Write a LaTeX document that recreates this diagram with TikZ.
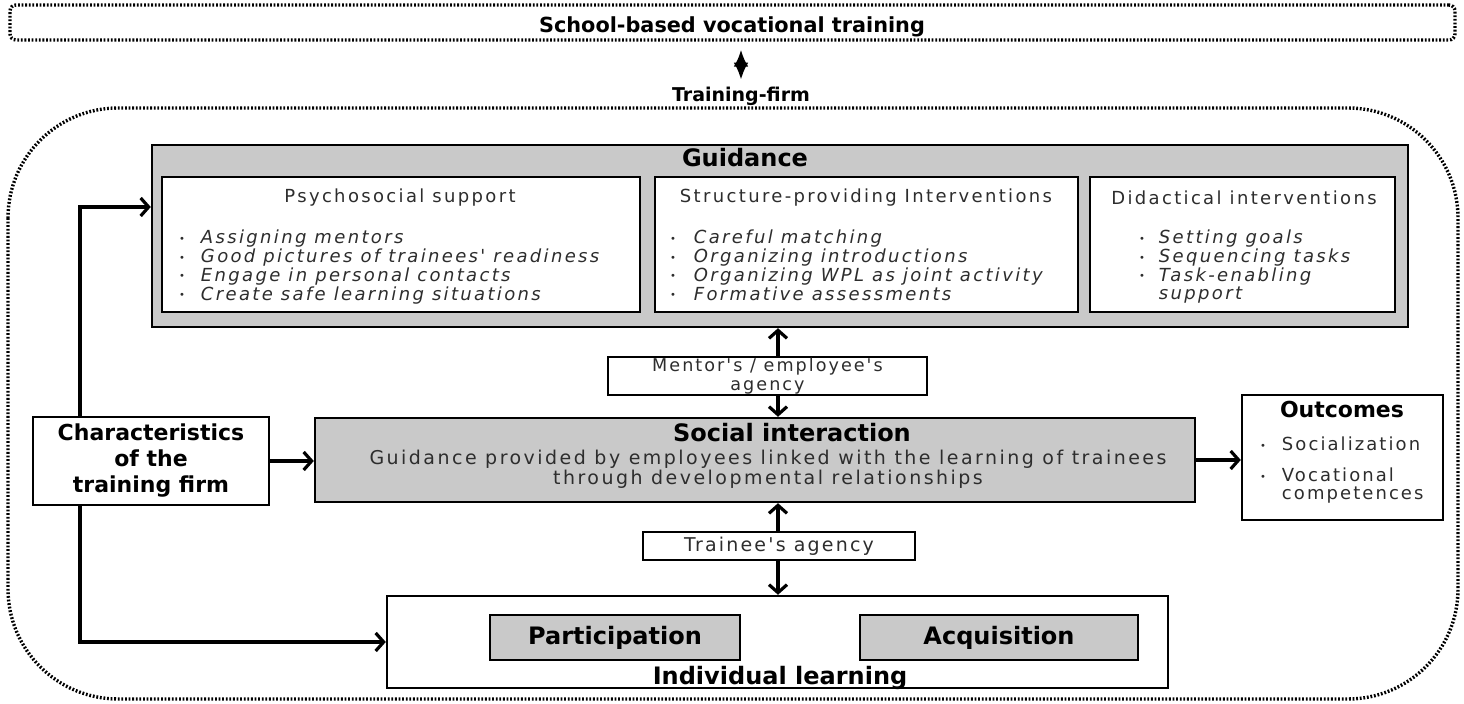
\documentclass[tikz,border=0pt]{standalone}
\usepackage{fontspec}
\setmainfont{DejaVu Sans}
\newfontfamily\spaced[LetterSpace=13]{DejaVu Sans}
\newfontfamily\spacedmid[LetterSpace=11.5]{DejaVu Sans}
\usepackage{tikz}
\usetikzlibrary{positioning, arrows.meta}
\usepackage{xcolor}
\definecolor{BoxGray}{RGB}{201, 201, 201}
\definecolor{TextGray}{RGB}{45, 45, 45}
\newcommand{\dotitem}{{\fontsize{5}{5}\selectfont\raisebox{0.8pt}{•}}}

\begin{document}
\begin{tikzpicture}[x=0.5pt, y=-0.5pt]
          \tikzstyle{box} = [rectangle, draw=black, line width=1.2pt, inner sep=0pt]
          \tikzstyle{graybox} = [box, fill=BoxGray]
          \tikzstyle{dotline} = [line width=1.7pt, dash pattern=on 0.9pt off 0.9pt]
          \tikzstyle{arr} = [line width=1.6pt, -{Straight Barb[length=4pt, width=9pt, line width=1.6pt]}]
          \tikzstyle{title} = [font=\bfseries\fontsize{10.4}{12}\selectfont]
          \tikzstyle{bigtitle} = [font=\bfseries\fontsize{12}{14}\selectfont]
          \tikzstyle{head} = [font=\spaced\fontsize{9}{9}\selectfont, text=TextGray]
          \tikzstyle{midtext} = [font=\spacedmid\fontsize{8.8}{9.5}\selectfont, text=TextGray]
          \tikzstyle{items} = [font=\spaced\itshape\fontsize{9}{8.75}\selectfont, text=TextGray, align=left, anchor=north west]

          \useasboundingbox (0,0) rectangle (1464,704);

          % Escuela y empresa
          \node[box, dotline, rounded corners=3pt, minimum width=722.5pt, minimum height=17.5pt] (school) at (732.5,22.5) {};
          \node[title] at (732,27) {School-based vocational training};
          \node[title, font=\bfseries\fontsize{9.5}{11}\selectfont] (firm) at (741,96) {Training-firm};
          \draw[line width=1.6pt, {Latex[length=8.5pt, width=7.5pt]}-{Latex[length=8.5pt, width=7.5pt]}, shorten <=0pt, shorten >=4pt] (firm.north) -- (firm.north |- school.south);
          \draw[dotline, rounded corners=55pt] (8,108) rectangle (1458,699);

          % Guidance
          \node[graybox, minimum width=628pt, minimum height=91pt] (guidance) at (780,236) {};
          \node[bigtitle] at (745,158) {Guidance};
          \node[box, fill=white, minimum width=239pt, minimum height=67.5pt] (psycho) at (401,244.5) {};
          \node[box, fill=white, minimum width=211.5pt, minimum height=67.5pt] (struct) at (866.5,244.5) {};
          \node[box, fill=white, minimum width=152.5pt, minimum height=67.5pt] (didact) at (1242.5,244.5) {};
          \node[head] at (400,198) {Psychosocial support};
          \node[head] at (866,198) {Structure-providing Interventions};
          \node[head] at (1244,198) {Didactical interventions};
          \node[items] at (172,223) {\begin{tabular}{@{}l@{\hspace{8pt}}l@{}}
            \dotitem & Assigning mentors\\ \dotitem & Good pictures of trainees' readiness\\
            \dotitem & Engage in personal contacts\\ \dotitem & Create safe learning situations\end{tabular}};
          \node[items] at (663,223) {\begin{tabular}{@{}l@{\hspace{9pt}}l@{}}
            \dotitem & Careful matching\\ \dotitem & Organizing introductions\\
            \dotitem & Organizing WPL as joint activity\\ \dotitem & Formative assessments\end{tabular}};
          \node[items] at (1132,223) {\begin{tabular}{@{}l@{\hspace{7pt}}l@{}}
            \dotitem & Setting goals\\ \dotitem & Sequencing tasks\\
            \dotitem & Task-enabling\\ & support\end{tabular}};

          % Agencias e interaccion
          \coordinate (axis) at (778,0);
          \node[box, minimum width=159.5pt, minimum height=19pt, midtext, align=center] (mentor) at (767.5,376) {Mentor's / employee's\\agency};
          \node[graybox, minimum width=440pt, minimum height=42pt] (social) at (755,460) {};
          \node[bigtitle] at (792,433) {Social interaction};
          \node[midtext, align=center, font=\spaced\fontsize{9.5}{9}\selectfont] at (768,469) {Guidance provided by employees linked with the learning of trainees\\through developmental relationships};
          \node[box, minimum width=136pt, minimum height=14pt, midtext, font=\spacedmid\fontsize{9.5}{9.5}\selectfont] (trainee) at (779,546) {Trainee's agency};
          \draw[arr] (mentor.north -| axis) -- (guidance.south -| axis);
          \draw[arr] (mentor.south -| axis) -- (social.north -| axis);
          \draw[arr] (trainee.north -| axis) -- (social.south -| axis);

          % Aprendizaje individual
          \node[box, minimum width=390.5pt, minimum height=46pt] (indiv) at (777.5,642) {};
          \node[graybox, minimum width=125pt, minimum height=22.5pt, bigtitle] (particip) at (615,637.5) {Participation};
          \node[graybox, minimum width=139pt, minimum height=22.5pt, bigtitle] (acquis) at (999,637.5) {Acquisition};
          \node[bigtitle] at (780,678) {Individual learning};
          \draw[arr] (trainee.south -| axis) -- (indiv.north -| axis);

          % Caracteristicas y resultados
          \node[box, minimum width=118pt, minimum height=44pt, align=center, font=\bfseries\fontsize{11}{13}\selectfont] (charact) at (151,461) {Characteristics\\of the\\training firm};
          \node[box, minimum width=100.5pt, minimum height=62.5pt] (outcomes) at (1342.5,457.5) {};
          \node[font=\bfseries\fontsize{11}{12}\selectfont] at (1342,409) {Outcomes};
          \node[head, font=\spacedmid\fontsize{9}{9}\selectfont, align=left, anchor=north west] at (1253,430) {\begin{tabular}{@{}l@{\hspace{8pt}}l@{}}
            \dotitem & Socialization\\[6pt] \dotitem & Vocational\\ & competences\end{tabular}};
          \coordinate (trunk) at (80,0);
          \draw[arr] (charact.east) -- (charact.east -| social.west);
          \draw[arr] (social.east) -- (social.east -| outcomes.west);
          \draw[arr] (charact.north -| trunk) |- ([yshift=14.5pt]guidance.west);
          \draw[arr] (charact.south -| trunk) |- (indiv.west);
        \end{tikzpicture}
\end{document}
